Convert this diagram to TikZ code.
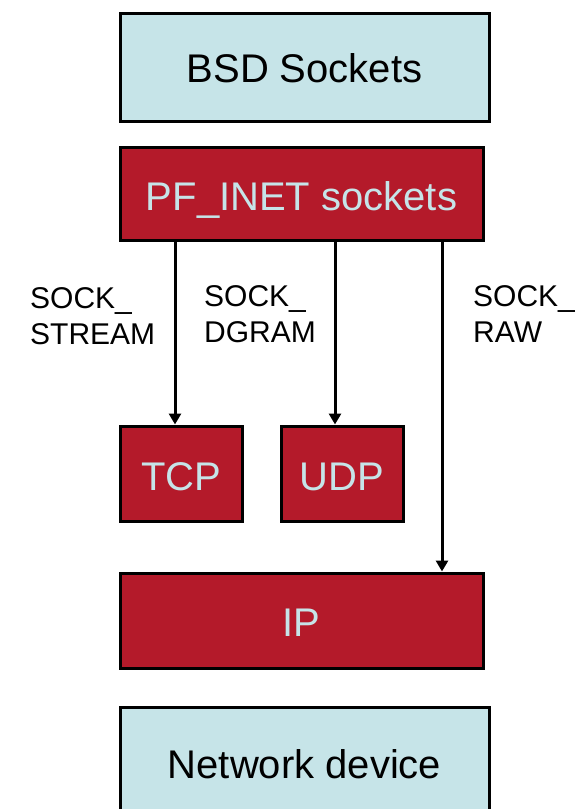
\documentclass[tikz,border=0pt]{standalone}
\usepackage{fontspec}
\setmainfont{Liberation Sans}
\usetikzlibrary{arrows.meta}
\definecolor{paleblue}{HTML}{C6E4E8}
\definecolor{stackred}{HTML}{B41A2A}
\tikzset{
  layer/.style={draw=black, line width=3pt, inner sep=0pt,
    text height=31pt, text depth=0pt,
    font=\fontsize{40}{44}\selectfont},
  bluebox/.style={layer, fill=paleblue, text=black},
  redbox/.style={layer, fill=stackred, text=paleblue},
  arr/.style={line width=3pt, -{Triangle[length=11pt,width=12pt]}},
  socklbl/.style={anchor=north west, inner sep=0pt, align=left,
    font=\fontsize{30}{36}\selectfont}
}
\begin{document}
\begin{tikzpicture}[x=1pt,y=1pt]
\useasboundingbox (0,0) rectangle (587,-809);
% protocol stack layers
\node[bluebox, minimum width=369pt, minimum height=108pt] (bsd) at (304.5,-67) {BSD Sockets};
\node[redbox, text height=33pt, minimum width=363pt, minimum height=93pt] (pf) at (301.5,-193.5) {PF\_INET sockets};
\node[redbox, text height=33pt, minimum width=122pt, minimum height=95pt] (tcp) at (181,-473.5) {TCP};
\node[redbox, text height=33pt, minimum width=122pt, minimum height=95pt] (udp) at (342,-473.5) {UDP};
\node[redbox, minimum width=363pt, minimum height=95pt] (ip) at (301.5,-620.5) {IP};
\node[bluebox, text height=29pt, minimum width=369pt, minimum height=113pt] (net) at (304.5,-763.5) {Network device};
% socket type connectors
\coordinate (xs) at (175,0);
\coordinate (xd) at (335,0);
\coordinate (xr) at (442,0);
\draw[arr] (pf.south -| xs) -- (tcp.north -| xs);
\draw[arr] (pf.south -| xd) -- (udp.north -| xd);
\draw[arr] (pf.south -| xr) -- (ip.north -| xr);
\node[socklbl] (lstream) at (30,-287) {SOCK\_\\STREAM};
\node[socklbl] (ldgram) at (204,-285) {SOCK\_\\DGRAM};
\node[socklbl] (lraw) at (473,-285) {SOCK\_\\RAW};
\end{tikzpicture}
\end{document}
